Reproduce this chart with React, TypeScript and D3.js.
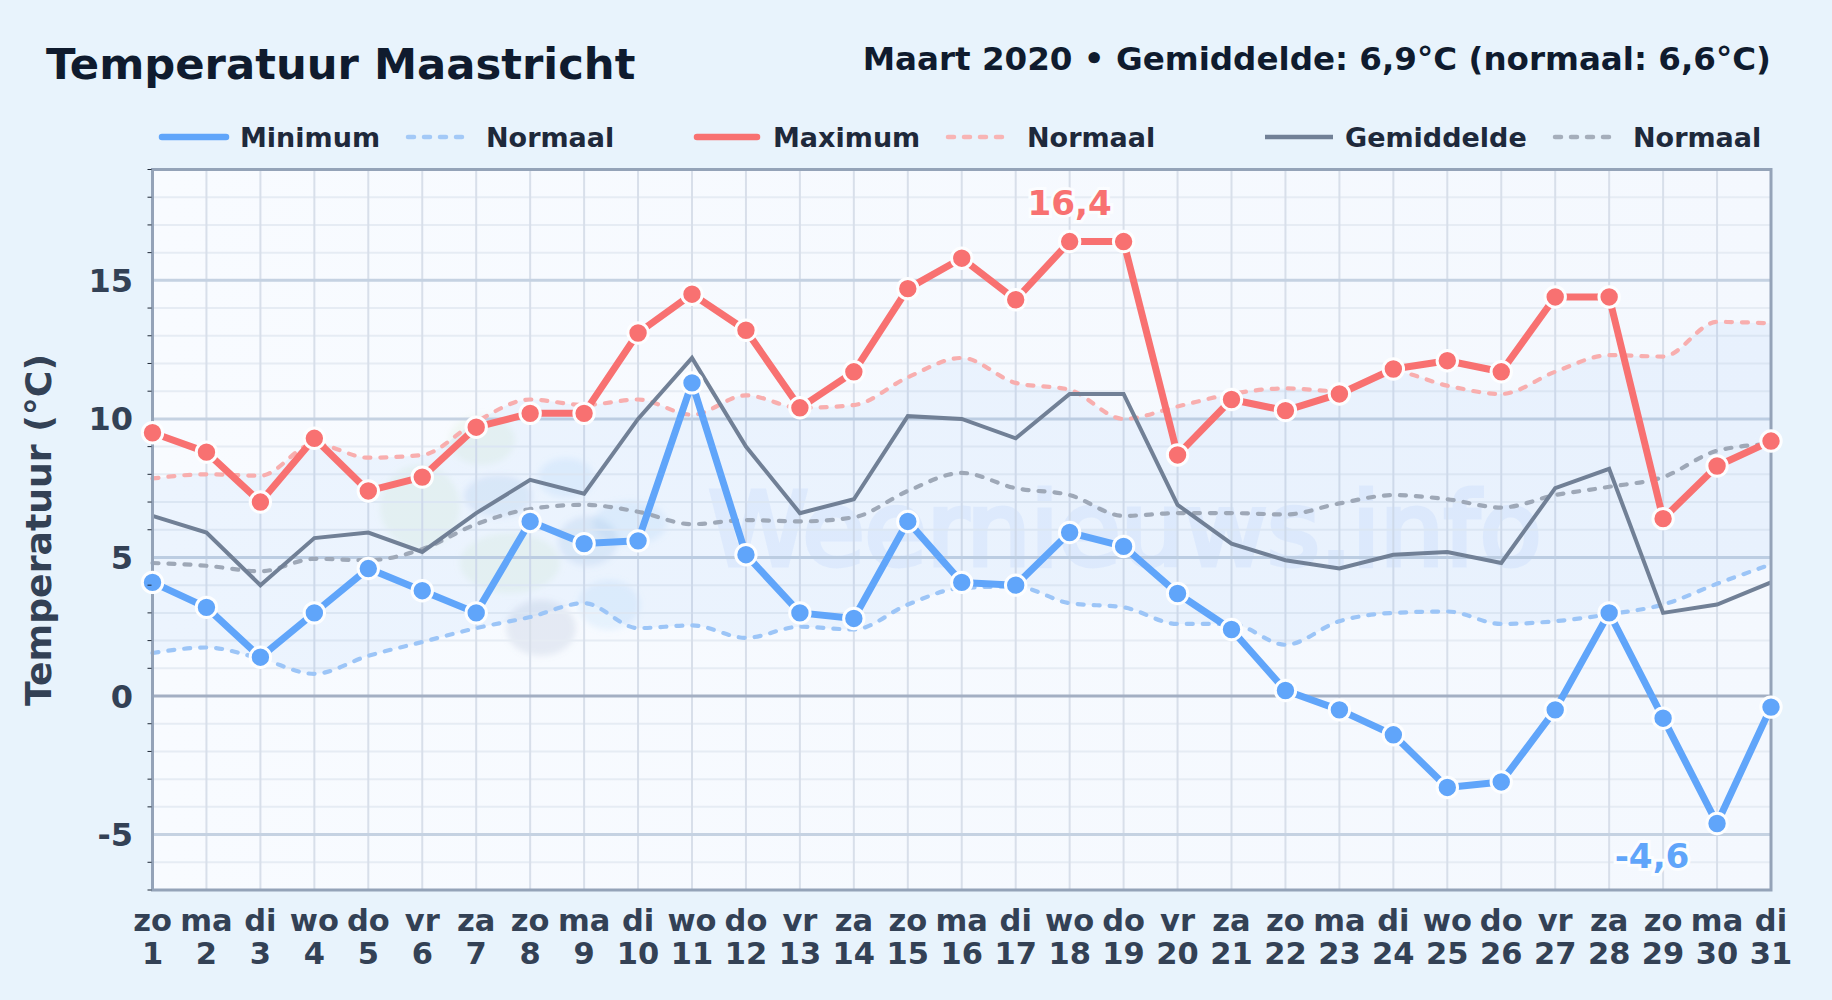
import { useEffect, useRef } from "react";
import * as d3 from "d3";

const WEEKDAYS = ["zo","ma","di","wo","do","vr","za","zo","ma","di","wo","do","vr","za","zo","ma","di","wo","do","vr","za","zo","ma","di","wo","do","vr","za","zo","ma","di"];
const DAYS = d3.range(1, 32);

const T_MAX = [9.5,8.8,7.0,9.3,7.4,7.9,9.7,10.2,10.2,13.1,14.5,13.2,10.4,11.7,14.7,15.8,14.3,16.4,16.4,8.7,10.7,10.3,10.9,11.8,12.1,11.7,14.4,14.4,6.4,8.3,9.2];
const T_MIN = [4.1,3.2,1.4,3.0,4.6,3.8,3.0,6.3,5.5,5.6,11.3,5.1,3.0,2.8,6.3,4.1,4.0,5.9,5.4,3.7,2.4,0.2,-0.5,-1.4,-3.3,-3.1,-0.5,3.0,-0.8,-4.6,-0.4];
const T_AVG = [6.5,5.9,4.0,5.7,5.9,5.2,6.6,7.8,7.3,10.0,12.2,9.0,6.6,7.1,10.1,10.0,9.3,10.9,10.9,6.9,5.5,4.9,4.6,5.1,5.2,4.8,7.5,8.2,3.0,3.3,4.1];
const NORM_MAX = [7.85,8.0,7.95,9.1,8.6,8.7,9.9,10.7,10.5,10.7,10.15,10.85,10.4,10.5,11.5,12.2,11.3,11.05,10.0,10.45,10.9,11.1,11.0,11.7,11.2,10.9,11.7,12.3,12.25,13.5,13.45];
const NORM_AVG = [4.8,4.7,4.5,4.95,4.9,5.3,6.2,6.75,6.9,6.65,6.2,6.35,6.3,6.45,7.4,8.05,7.5,7.25,6.5,6.6,6.6,6.55,6.95,7.25,7.1,6.8,7.25,7.55,7.9,8.85,9.1];
const NORM_MIN = [1.55,1.75,1.35,0.8,1.45,1.95,2.45,2.85,3.35,2.45,2.55,2.1,2.5,2.4,3.3,3.9,3.95,3.35,3.2,2.6,2.6,1.85,2.7,3.0,3.05,2.6,2.7,2.95,3.3,4.05,4.75];

const MAJOR_TICKS = [-5, 0, 5, 10, 15];
const MINOR_TICKS = d3.range(-7, 20).filter((v) => v % 5 !== 0);

const BLUE = "#60a5fa";
const RED = "#f87171";
const SLATE = "#718096";
const FONT = "'DejaVu Sans', sans-serif";

const W = 1832;
const H = 1000;
const plot = { left: 152.5, right: 1771, top: 169.5, bottom: 890 };

// legend: [swatch start, swatch end, text x, label, colour, dashed, width]
const LEGEND: [number, number, number, string, string, boolean, number][] = [
  [162, 226, 240, "Minimum", BLUE, false, 6.5],
  [408, 462, 486, "Normaal", "#a3c9f7", true, 4.5],
  [697, 757, 773, "Maximum", RED, false, 6.5],
  [948, 1004, 1027, "Normaal", "#f8b4b4", true, 4.5],
  [1265, 1333, 1345, "Gemiddelde", SLATE, false, 4.5],
  [1555, 1617, 1633, "Normaal", "#a5aebb", true, 4.5],
];

// logo blobs behind the plot: [cx, cy, rx, ry, colour]
const BLOBS: [number, number, number, number, string][] = [
  [482, 440, 33, 25, "#bfe3b4"],
  [420, 507, 40, 42, "#bfe3b4"],
  [510, 563, 50, 30, "#bfe3b4"],
  [498, 496, 34, 21, "#7fa8d8"],
  [566, 478, 28, 20, "#8cc4f5"],
  [630, 523, 37, 22, "#8cc4f5"],
  [588, 541, 30, 25, "#7fa8d8"],
  [609, 605, 31, 25, "#8cc4f5"],
  [541, 628, 35, 28, "#8098b8"],
];

export default function App() {
  const svgRef = useRef<SVGSVGElement>(null);

  useEffect(() => {
    if (!svgRef.current) return;
    const svg = d3.select(svgRef.current);
    svg.selectAll("*").remove();

    const x = d3.scaleLinear().domain([1, 31]).range([plot.left, plot.right]);
    const y = d3.scaleLinear().domain([-7, 19]).range([plot.bottom, plot.top]);

    const defs = svg.append("defs");
    const grad = defs.append("linearGradient").attr("id", "plotBg").attr("x1", 0).attr("x2", 1).attr("y1", 0).attr("y2", 0);
    grad.append("stop").attr("offset", "0%").attr("stop-color", "#f8fbff");
    grad.append("stop").attr("offset", "100%").attr("stop-color", "#f4f8fe");
    defs.append("filter").attr("id", "soft").append("feGaussianBlur").attr("stdDeviation", 3);
    defs.append("clipPath").attr("id", "plotClip").append("rect")
      .attr("x", plot.left).attr("y", plot.top)
      .attr("width", plot.right - plot.left).attr("height", plot.bottom - plot.top);

    svg.append("rect").attr("width", W).attr("height", H).attr("fill", "#e8f3fc");
    svg.append("rect")
      .attr("x", plot.left).attr("y", plot.top)
      .attr("width", plot.right - plot.left).attr("height", plot.bottom - plot.top)
      .attr("fill", "url(#plotBg)");

    // watermark
    const wm = svg.append("g").attr("clip-path", "url(#plotClip)");
    wm.append("text")
      .attr("x", 1125).attr("y", 565).attr("text-anchor", "middle")
      .attr("font-family", FONT).attr("font-size", 101)
      .attr("fill", "#3b82f6").attr("stroke", "#3b82f6").attr("stroke-width", 5)
      .attr("opacity", 0.065)
      .text("Weernieuws.info");
    wm.append("g").attr("filter", "url(#soft)").selectAll("ellipse")
      .data(BLOBS).enter().append("ellipse")
      .attr("cx", (d) => d[0]).attr("cy", (d) => d[1])
      .attr("rx", (d) => d[2]).attr("ry", (d) => d[3])
      .attr("fill", (d) => d[4]).attr("opacity", 0.16);

    // grid
    const grid = svg.append("g");
    grid.selectAll(".minor").data(MINOR_TICKS).enter().append("line")
      .attr("x1", plot.left).attr("x2", plot.right)
      .attr("y1", (d) => y(d)).attr("y2", (d) => y(d))
      .attr("stroke", "#e6ecf4").attr("stroke-width", 2);
    grid.selectAll(".vert").data(DAYS).enter().append("line")
      .attr("x1", (d) => x(d)).attr("x2", (d) => x(d))
      .attr("y1", plot.top).attr("y2", plot.bottom)
      .attr("stroke", "#d8dfea").attr("stroke-width", 2);
    grid.selectAll(".major").data(MAJOR_TICKS).enter().append("line")
      .attr("x1", plot.left).attr("x2", plot.right)
      .attr("y1", (d) => y(d)).attr("y2", (d) => y(d))
      .attr("stroke", (d) => (d === 0 ? "#a3afc3" : "#c5d2e2"))
      .attr("stroke-width", 3);

    // band between the normal minimum and maximum
    const band = d3.area<number>()
      .x((_, i) => x(DAYS[i]))
      .y0((_, i) => y(NORM_MIN[i]))
      .y1((d) => y(d))
      .curve(d3.curveMonotoneX);
    svg.append("path").attr("d", band(NORM_MAX)).attr("fill", "#3b82f6").attr("opacity", 0.06);

    const line = d3.line<number>().x((_, i) => x(DAYS[i])).y((d) => y(d));
    const smooth = d3.line<number>().x((_, i) => x(DAYS[i])).y((d) => y(d)).curve(d3.curveMonotoneX);

    const dashed = (values: number[], color: string) =>
      svg.append("path").attr("d", smooth(values)).attr("fill", "none")
        .attr("stroke", color).attr("stroke-width", 4.2)
        .attr("stroke-dasharray", "6 10").attr("stroke-linecap", "round");

    dashed(NORM_MIN, "#9cc5f7");
    dashed(NORM_MAX, "#f8aeae");
    dashed(NORM_AVG, "#9ea8b7");

    svg.append("path").attr("d", line(T_AVG)).attr("fill", "none")
      .attr("stroke", SLATE).attr("stroke-width", 4);

    const solid = (values: number[], color: string) => {
      svg.append("path").attr("d", line(values)).attr("fill", "none")
        .attr("stroke", color).attr("stroke-width", 7).attr("stroke-linejoin", "round");
    };
    solid(T_MIN, BLUE);
    solid(T_MAX, RED);

    // frame
    svg.append("rect")
      .attr("x", plot.left).attr("y", plot.top)
      .attr("width", plot.right - plot.left).attr("height", plot.bottom - plot.top)
      .attr("fill", "none").attr("stroke", "#94a3b8").attr("stroke-width", 3);

    const dots = (values: number[], color: string) =>
      svg.append("g").selectAll("circle").data(values).enter().append("circle")
        .attr("cx", (_, i) => x(DAYS[i])).attr("cy", (d) => y(d))
        .attr("r", 10.2).attr("fill", color)
        .attr("stroke", "#fdfeff").attr("stroke-width", 3);
    dots(T_MIN, BLUE);
    dots(T_MAX, RED);

    // minor ticks
    svg.append("g").selectAll("line").data(MINOR_TICKS).enter().append("line")
      .attr("x1", plot.left - 5).attr("x2", plot.left - 1)
      .attr("y1", (d) => y(d)).attr("y2", (d) => y(d))
      .attr("stroke", "#1f2937").attr("stroke-width", 1);

    // y labels
    svg.append("g").selectAll("text").data(MAJOR_TICKS).enter().append("text")
      .attr("x", 133).attr("y", (d) => y(d) + 11.5)
      .attr("text-anchor", "end")
      .attr("font-family", FONT).attr("font-weight", "bold").attr("font-size", 32)
      .attr("fill", "#334155")
      .text((d) => d);

    svg.append("text")
      .attr("transform", `translate(51,530) rotate(-90)`)
      .attr("text-anchor", "middle")
      .attr("font-family", FONT).attr("font-weight", "bold").attr("font-size", 36.2)
      .attr("fill", "#334155")
      .text("Temperatuur (°C)");

    // x labels
    const xl = svg.append("g")
      .attr("font-family", FONT).attr("font-weight", "bold").attr("font-size", 30.5)
      .attr("fill", "#334155").attr("text-anchor", "middle");
    xl.selectAll(".wd").data(WEEKDAYS).enter().append("text")
      .attr("x", (_, i) => x(DAYS[i])).attr("y", 931).text((d) => d);
    xl.selectAll(".dn").data(DAYS).enter().append("text")
      .attr("x", (d) => x(d)).attr("y", 964).text((d) => d);

    // extreme labels
    const peak = (day: number, value: number, dx: number, dy: number, color: string) =>
      svg.append("text")
        .attr("x", x(day) + dx).attr("y", y(value) + dy)
        .attr("text-anchor", "middle")
        .attr("font-family", FONT).attr("font-weight", "bold").attr("font-size", 34.2)
        .attr("fill", color)
        .attr("stroke", "#fbfdff").attr("stroke-width", 6).attr("paint-order", "stroke")
        .text(String(value).replace(".", ","));
    peak(18, d3.max(T_MAX) ?? 0, 0, -26.5, RED);
    peak(30, d3.min(T_MIN) ?? 0, -65, 45, BLUE);

    // titles
    svg.append("text").attr("x", 46).attr("y", 79)
      .attr("font-family", FONT).attr("font-weight", "bold").attr("font-size", 43.3)
      .attr("fill", "#0f1b2e").text("Temperatuur Maastricht");
    svg.append("text").attr("x", 1771).attr("y", 70).attr("text-anchor", "end")
      .attr("font-family", FONT).attr("font-weight", "bold").attr("font-size", 32.55)
      .attr("fill", "#0f1b2e").text("Maart 2020 • Gemiddelde: 6,9°C (normaal: 6,6°C)");

    // legend
    const lg = svg.append("g").selectAll("g").data(LEGEND).enter().append("g");
    lg.append("line")
      .attr("x1", (d) => d[0]).attr("x2", (d) => d[1]).attr("y1", 137).attr("y2", 137)
      .attr("stroke", (d) => d[4]).attr("stroke-width", (d) => d[6])
      .attr("stroke-linecap", (d) => (d[4] === SLATE ? "butt" : "round"))
      .attr("stroke-dasharray", (d) => (d[5] ? "6 10" : null));
    lg.append("text")
      .attr("x", (d) => d[2]).attr("y", 146.5)
      .attr("font-family", FONT).attr("font-weight", "bold").attr("font-size", 27)
      .attr("fill", "#1e293b")
      .text((d) => d[3]);
  }, []);

  return (
    <svg
      ref={svgRef}
      width={W}
      height={H}
      style={{ position: "fixed", left: 0, top: 0, display: "block" }}
      role="img"
      aria-label="Temperatuur Maastricht, maart 2020"
    />
  );
}
